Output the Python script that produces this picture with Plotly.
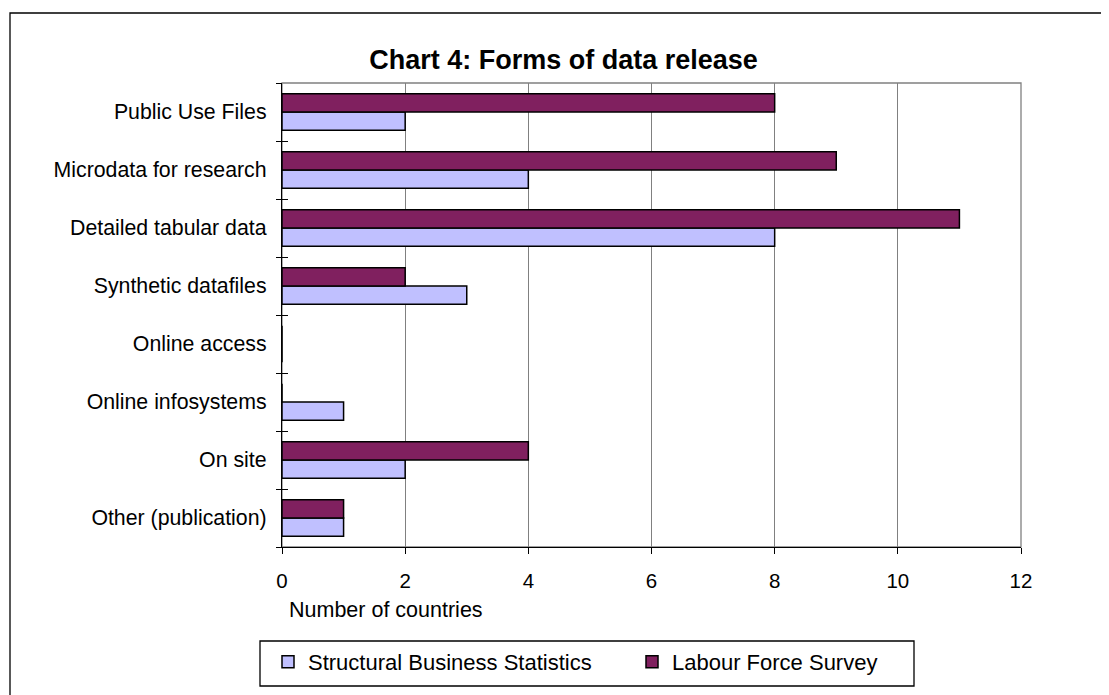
import plotly.graph_objects as go

categories = [
    "Public Use Files",
    "Microdata for research",
    "Detailed tabular data",
    "Synthetic datafiles",
    "Online access",
    "Online infosystems",
    "On site",
    "Other (publication)",
]
sbs_values = [2, 4, 8, 3, 0, 1, 2, 1]
lfs_values = [8, 9, 11, 2, 0, 0, 4, 1]
x_ticks = [0, 2, 4, 6, 8, 10, 12]

# plotly draws the first category at the bottom; reverse so top matches reference
cats_plot = categories[::-1]
sbs_plot = sbs_values[::-1]
lfs_plot = lfs_values[::-1]

FONT = "Liberation Sans, Arial, sans-serif"

# the page body adds an 8px margin; lay out in figure pixels accordingly
OFF = 8
W, H = 1109 - OFF, 695 - OFF
L, T, R, B = 282 - OFF, 83 - OFF, 1109 - 1021, 695 - 547
PW, PH = W - L - R, H - T - B


def px_x(page_x):
    return (page_x - OFF - L) / PW


def px_y(page_y):
    return 1 - (page_y - OFF - T) / PH


fig = go.Figure()
fig.add_trace(go.Bar(
    y=cats_plot, x=sbs_plot, orientation="h",
    name="Structural Business Statistics",
    marker=dict(color="#C0C0FF", line=dict(color="black", width=1.5)),
))
fig.add_trace(go.Bar(
    y=cats_plot, x=lfs_plot, orientation="h",
    name="Labour Force Survey",
    marker=dict(color="#80205F", line=dict(color="black", width=1.5)),
))
# invisible helper for inner half of the y tick crosses
fig.add_trace(go.Scatter(
    y=cats_plot, x=[0] * len(cats_plot), yaxis="y2", mode="markers",
    marker=dict(opacity=0), showlegend=False, hoverinfo="skip",
))

fig.update_layout(
    width=W, height=H,
    margin=dict(l=L, r=R, t=T, b=B, autoexpand=False),
    paper_bgcolor="white", plot_bgcolor="white",
    font=dict(family=FONT, color="black", size=21),
    barmode="group", bargap=0.367, bargroupgap=0,
    title=dict(
        text="<b>Chart 4: Forms of data release</b>",
        x=(563.5 - OFF) / W, xanchor="center", xref="container",
        y=1 - (60 - OFF) / H, yanchor="middle", yref="container",
        font=dict(size=27, family=FONT, color="black"),
    ),
    xaxis=dict(
        range=[0, 12], tickvals=x_ticks, ticktext=[str(v) for v in x_ticks],
        showgrid=True, gridcolor="#808080", gridwidth=1.3,
        showline=True, linecolor="black", linewidth=1.3,
        ticks="outside", ticklen=6, tickcolor="black", tickwidth=1.3,
        tickfont=dict(size=20.5), zeroline=False,
        ticklabelstandoff=9,
    ),
    yaxis=dict(
        type="category", categoryorder="array", categoryarray=cats_plot,
        showgrid=False, showline=True, linecolor="black", linewidth=1.3,
        ticks="outside", ticklen=5, tickcolor="black", tickwidth=1.3,
        tickson="boundaries", tickfont=dict(size=21.3),
        ticklabelstandoff=10,
    ),
    yaxis2=dict(
        type="category", categoryorder="array", categoryarray=cats_plot,
        overlaying="y", matches="y", side="left",
        showgrid=False, showline=False, showticklabels=False,
        ticks="inside", ticklen=6, tickcolor="black", tickwidth=1.3,
        tickson="boundaries",
    ),
    legend=dict(
        orientation="h",
        x=px_x(268), xanchor="left",
        y=px_y(641), yanchor="top",
        borderwidth=0, bgcolor="rgba(0,0,0,0)",
        font=dict(size=22, family=FONT, color="black"),
        entrywidth=319, entrywidthmode="pixels",
        traceorder="normal",
    ),
    showlegend=True,
)

# plot-area frame (grey top/right edges), legend box and outer chart frame
fig.add_shape(type="rect", xref="paper", yref="paper", x0=0, x1=1, y0=0, y1=1,
              line=dict(color="#808080", width=1.3), layer="below")
fig.add_shape(type="rect", xref="paper", yref="paper",
              x0=px_x(260), x1=px_x(914), y0=px_y(686), y1=px_y(641),
              line=dict(color="black", width=1.3), layer="below")
fig.add_shape(type="rect", xref="paper", yref="paper",
              x0=px_x(10), x1=px_x(1125), y0=px_y(715), y1=px_y(13),
              line=dict(color="black", width=1.3), layer="below")

fig.add_annotation(
    text="Number of countries", xref="paper", yref="paper",
    x=px_x(287), xanchor="left",
    y=px_y(610), yanchor="middle",
    showarrow=False, font=dict(size=21.5, family=FONT, color="black"),
)

fig.write_html("out.html")
